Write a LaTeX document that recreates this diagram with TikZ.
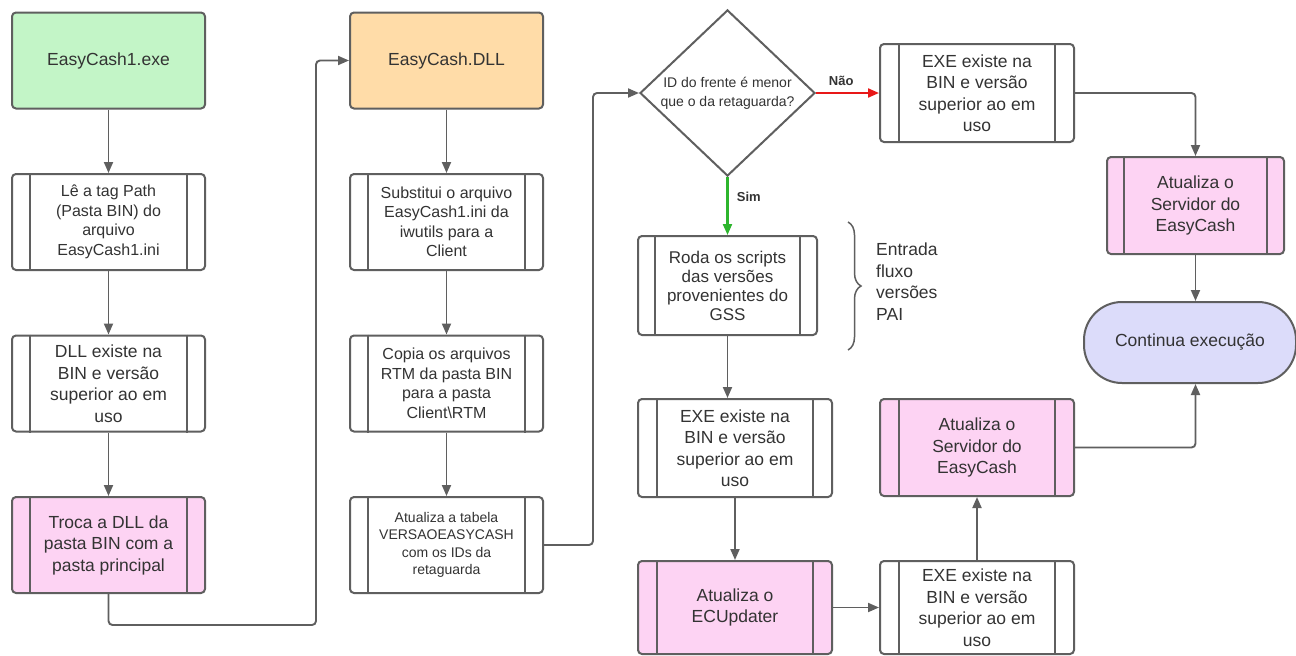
\documentclass[tikz,border=0pt]{standalone}
\usepackage{fontspec}
\setmainfont{Liberation Sans}
\usetikzlibrary{arrows.meta,shapes.geometric,decorations.pathreplacing}
\definecolor{lc}{HTML}{5F5F5F}
\definecolor{txt}{HTML}{333333}
\definecolor{fgreen}{HTML}{C3F5C7}
\definecolor{forange}{HTML}{FFDCA8}
\definecolor{fpink}{HTML}{FDD3F3}
\definecolor{flav}{HTML}{DCDCFA}
\definecolor{cred}{HTML}{E81818}
\definecolor{cgreen}{HTML}{2DB52D}
\tikzset{
  box/.style={draw=lc, line width=2pt, rounded corners=4pt, minimum width=193pt, minimum height=96pt,
    align=center, text=txt, inner sep=0pt, font=\fontsize{17.5}{21.5}\selectfont},
  fs16/.style={font=\fontsize{16}{19.5}\selectfont},
  fs14/.style={font=\fontsize{14}{17.5}\selectfont},
  conn/.style={draw=lc, line width=1.9pt, -{Triangle[length=11pt,width=9pt]}, rounded corners=4pt},
  inner/.style={draw=lc, line width=2pt},
  lbl/.style={font=\fontsize{13}{15}\selectfont\bfseries, text=txt}
}
\begin{document}
\begin{tikzpicture}[x=1pt,y=-1pt]
\useasboundingbox[fill=white] (0,0) rectangle (1296,656);

% column 1
\node[box, fill=fgreen] (n1) at (108.5,60.5) {EasyCash1.exe};
\node[box, fs16] (n2) at (108.5,222) {Lê a tag Path\\(Pasta BIN) do\\arquivo\\EasyCash1.ini};
\node[box] (n3) at (108.5,383.5) {DLL existe na\\BIN e versão\\superior ao em\\uso};
\node[box, fill=fpink] (n4) at (108.5,545) {Troca a DLL da\\pasta BIN com a\\pasta principal};

% column 2
\node[box, fill=forange] (m1) at (446.5,60.5) {EasyCash.DLL};
\node[box, fs16] (m2) at (446.5,222) {Substitui o arquivo\\EasyCash1.ini da\\iwutils para a\\Client};
\node[box, fs16] (m3) at (446.5,383.5) {Copia os arquivos\\RTM da pasta BIN\\para a pasta\\Client\textbackslash RTM};
\node[box, fs14] (m4) at (446.5,545) {Atualiza a tabela\\VERSAOEASYCASH\\com os IDs da\\retaguarda};

% column 3
\node[draw=lc, line width=2pt, shape=diamond, minimum width=175pt, minimum height=160pt, inner sep=0pt,
  align=center, text=txt, font=\fontsize{14}{19}\selectfont] (d) at (727.5,93) {ID do frente é menor\\que o da retaguarda?};
\node[box, minimum width=179pt, minimum height=99pt, font=\fontsize{17}{19}\selectfont] (r1) at (727.5,285.5) {Roda os scripts\\das versões\\provenientes do\\GSS};
\node[box, minimum width=194pt, minimum height=98pt] (r2) at (735,448) {EXE existe na\\BIN e versão\\superior ao em\\uso};
\node[box, fill=fpink, minimum width=194pt, minimum height=93pt] (r3) at (735,607.5) {Atualiza o\\ECUpdater};

% column 4
\node[box, minimum width=194pt, minimum height=98pt] (t1) at (977,93) {EXE existe na\\BIN e versão\\superior ao em\\uso};
\node[box, fill=fpink, minimum width=177pt, minimum height=97pt] (t2) at (1195.5,205.5) {Atualiza o\\Servidor do\\EasyCash};
\node[draw=lc, line width=2pt, fill=flav, rounded corners=38pt, minimum width=212pt, minimum height=81pt,
  text=txt, font=\fontsize{17.5}{21.5}\selectfont] (c) at (1190,342.5) {Continua execução};
\node[box, fill=fpink, minimum width=194pt, minimum height=97pt] (t3) at (977,447.5) {Atualiza o\\Servidor do\\EasyCash};
\node[box, minimum width=194pt, minimum height=93pt] (t4) at (977,607.5) {EXE existe na\\BIN e versão\\superior ao em\\uso};

% inner vertical lines of the process boxes
\foreach \n/\o in {n2/19,n3/19,n4/19,m2/19,m3/19,m4/19,r1/18,r2/20,r3/20,t1/20,t2/18,t3/20,t4/20}{
  \draw[inner] ([xshift=\o pt]\n.north west) -- ([xshift=\o pt]\n.south west);
  \draw[inner] ([xshift=-\o pt]\n.north east) -- ([xshift=-\o pt]\n.south east);
}

% brace and note
\draw[draw=lc, line width=1.5pt, decorate, decoration={brace, amplitude=13pt}] (848,222) -- (848,350);
\node[anchor=north west, align=left, text=txt, font=\fontsize{17.5}{21.5}\selectfont, inner sep=0pt] (ent) at (876,243)
  {Entrada\\fluxo\\versões\\PAI};

% connectors
\draw[conn] (n1) -- (n2);
\draw[conn] (n2) -- (n3);
\draw[conn] (n3) -- (n4);
\draw[conn] (n4.south) -- (108.5,625) -- (316,625) |- (m1.west);
\draw[conn] (m1) -- (m2);
\draw[conn] (m2) -- (m3);
\draw[conn] (m3) -- (m4);
\draw[conn] (m4.east) -- (593,545) |- (d.west);
\draw[conn, draw=cred, fill=cred, line width=2.1pt] (d.east) -- (t1.west)
  node[lbl, pos=0.4, above=3pt] {Não};
\draw[conn, draw=cgreen, fill=cgreen, line width=2.1pt] (d.south) -- (r1.north)
  node[lbl, pos=0.35, right=5pt] {Sim};
\draw[conn] (r1.south) -- (r1.south |- r2.north);
\draw[conn] (r2.south) -- (r3.north);
\draw[conn] (r3.east) -- (t4.west);
\draw[conn] (t4.north) -- (t3.south);
\draw[conn] (t1.east) -| (t2.north);
\draw[conn] (t2.south) -- (t2.south |- c.north);
\draw[conn] (t3.east) -| (t2.south |- c.south);
\end{tikzpicture}
\end{document}
